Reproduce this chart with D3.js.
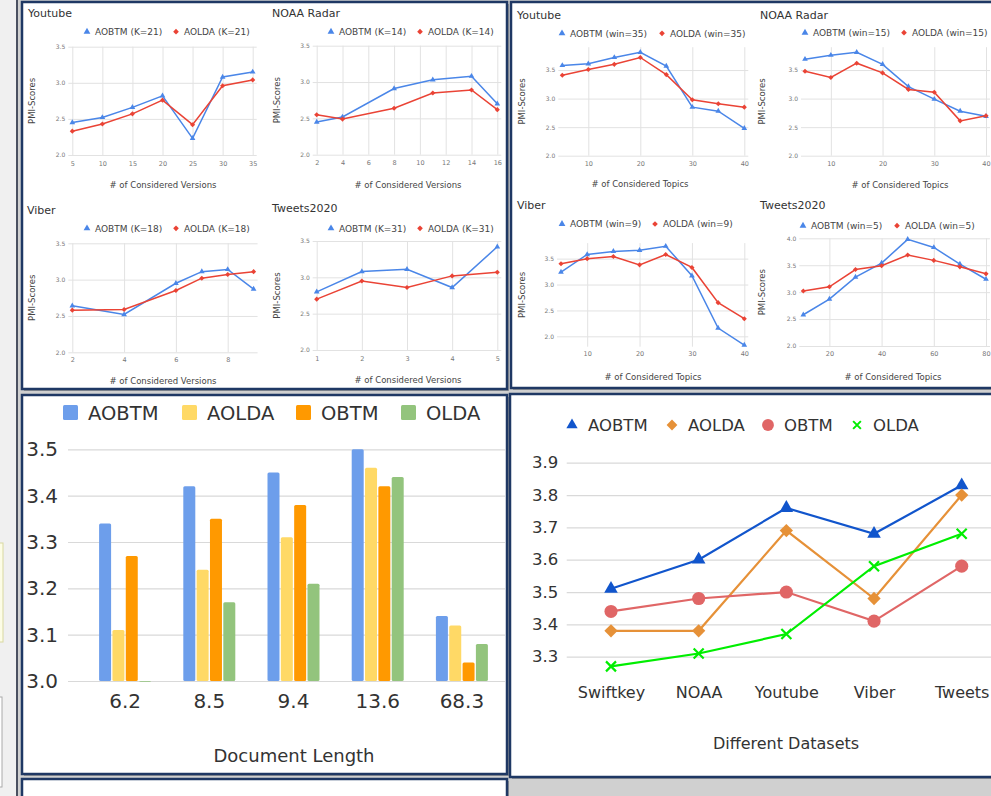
<!DOCTYPE html>
<html>
<head>
<meta charset="utf-8">
<script src="https://cdn.jsdelivr.net/npm/d3@7"></script>
<style>
  body { margin: 0; background: #d4d4d4; }
  svg { display: block; font-family: 'DejaVu Sans', Verdana, sans-serif; }
</style>
</head>
<body>
<svg id="chart" width="991" height="796"></svg>
<script>
// ---- top-left: PMI vs # of considered versions ----
const ytVersions = [5, 10, 15, 20, 25, 30, 35];
const ytVerAOBTM = [2.45, 2.52, 2.66, 2.82, 2.23, 3.08, 3.15];
const ytVerAOLDA = [2.33, 2.43, 2.57, 2.76, 2.42, 2.96, 3.04];
const noaaVersions = [2, 4, 8, 11, 14, 16];
const noaaVerAOBTM = [2.45, 2.52, 2.91, 3.03, 3.08, 2.70];
const noaaVerAOLDA = [2.55, 2.49, 2.64, 2.85, 2.89, 2.62];
const viberVersions = [2, 4, 6, 7, 8, 9];
const viberVerAOBTM = [2.64, 2.52, 2.95, 3.11, 3.14, 2.87];
const viberVerAOLDA = [2.58, 2.59, 2.85, 3.02, 3.07, 3.11];
const tweetsVersions = [1, 2, 3, 4, 5];
const tweetsVerAOBTM = [2.80, 3.08, 3.11, 2.86, 3.42];
const tweetsVerAOLDA = [2.70, 2.95, 2.86, 3.02, 3.07];

// ---- top-right: PMI vs # of considered topics ----
const topics = [5, 10, 15, 20, 25, 30, 35, 40];
const ytTopAOBTM = [3.58, 3.61, 3.72, 3.81, 3.57, 2.85, 2.78, 2.48];
const ytTopAOLDA = [3.41, 3.51, 3.60, 3.72, 3.42, 2.98, 2.91, 2.85];
const noaaTopAOBTM = [3.69, 3.76, 3.81, 3.60, 3.21, 2.99, 2.78, 2.69];
const noaaTopAOLDA = [3.48, 3.37, 3.62, 3.45, 3.16, 3.11, 2.61, 2.70];
const viberTopAOBTM = [3.24, 3.58, 3.64, 3.66, 3.74, 3.17, 2.16, 1.83];
const viberTopAOLDA = [3.40, 3.50, 3.54, 3.38, 3.58, 3.33, 2.65, 2.34];
const tweetsTopics = [10, 20, 30, 40, 50, 60, 70, 80];
const tweetsTopAOBTM = [2.58, 2.87, 3.28, 3.54, 3.98, 3.83, 3.52, 3.24];
const tweetsTopAOLDA = [3.02, 3.10, 3.42, 3.49, 3.69, 3.59, 3.47, 3.34];

const pmiTicks = [2.0, 2.5, 3.0, 3.5];
const pmiTicks4 = [2.0, 2.5, 3.0, 3.5, 4.0];

// ---- bottom-left: document length bars ----
const docLengths = ['6.2', '8.5', '9.4', '13.6', '68.3'];
const barModels = ['AOBTM', 'AOLDA', 'OBTM', 'OLDA'];
const barAOBTM = [3.34, 3.42, 3.45, 3.50, 3.14];
const barAOLDA = [3.11, 3.24, 3.31, 3.46, 3.12];
const barOBTM = [3.27, 3.35, 3.38, 3.42, 3.04];
const barOLDA = [3.00, 3.17, 3.21, 3.44, 3.08];
const barTicks = [3.0, 3.1, 3.2, 3.3, 3.4, 3.5];

// ---- bottom-right: different datasets ----
const datasets = ['Swiftkey', 'NOAA', 'Youtube', 'Viber', 'Tweets'];
const dsAOBTM = [3.51, 3.60, 3.76, 3.68, 3.83];
const dsAOLDA = [3.38, 3.38, 3.69, 3.48, 3.80];
const dsOBTM = [3.44, 3.48, 3.50, 3.41, 3.58];
const dsOLDA = [3.27, 3.31, 3.37, 3.58, 3.68];
const dsTicks = [3.3, 3.4, 3.5, 3.6, 3.7, 3.8, 3.9];

const FONT = "'DejaVu Sans', Verdana, sans-serif";
const BLUE = '#4a86e8', RED = '#ea4335';
const NAVY = '#1f3864';

const svg = d3.select('#chart');

// background, left strip bits
svg.append('rect').attr('width', 991).attr('height', 796).attr('fill', '#d0d0d0');
svg.append('rect').attr('width', 16).attr('height', 796).attr('fill', '#f0f0f0');
svg.append('rect').attr('x', -10).attr('y', 543).attr('width', 13).attr('height', 99)
  .attr('fill', '#fdfde6').attr('stroke', '#d8d8a0');
svg.append('rect').attr('x', -10).attr('y', 697).attr('width', 12).attr('height', 90)
  .attr('fill', '#fff').attr('stroke', '#aaa');
svg.append('line').attr('x1', 17).attr('x2', 17).attr('y1', 0).attr('y2', 796)
  .attr('stroke', '#4a5060').attr('stroke-width', 2);

// panel frames
const panels = [
  [22, 2, 485, 387],
  [511, 2, 482, 386],
  [22, 395, 485, 379],
  [510, 394, 483, 383],
  [22, 779, 485, 40]
];
panels.forEach(([x, y, w, h]) => {
  svg.append('rect').attr('x', x + 2).attr('y', y + 2).attr('width', w).attr('height', h)
    .attr('fill', '#9a9a9a');
  svg.append('rect').attr('x', x).attr('y', y).attr('width', w).attr('height', h)
    .attr('fill', '#fff').attr('stroke', NAVY).attr('stroke-width', 2.5);
});

function styleAxis(ax, size, color) {
  ax.attr('font-family', FONT).attr('font-size', size);
  ax.select('.domain').remove();
  ax.selectAll('text').attr('fill', color);
}

// small google-sheets style line chart
function smallChart(c) {
  const g = svg.append('g').attr('transform', `translate(${c.ox},${c.oy})`);
  const x = d3.scaleLinear().domain(c.xDomain).range(c.xr);
  const y = d3.scaleLinear().domain(c.yDomain).range(c.yr);

  const yAx = g.append('g').attr('transform', `translate(${c.xr[0] - 4},0)`)
    .call(d3.axisLeft(y).tickValues(c.yTicks).tickFormat(d3.format('.1f'))
      .tickSize(-(c.xr[1] - c.xr[0] + 8)).tickPadding(3));
  styleAxis(yAx, 6, '#777');
  yAx.selectAll('line').attr('stroke', '#e2e2e2');

  const xAx = g.append('g').attr('transform', `translate(0,${c.yr[0]})`)
    .call(d3.axisBottom(x).tickValues(c.xTicks).tickFormat(d3.format('d'))
      .tickSize(-(c.yr[0] - c.yr[1])).tickPadding(c.xPad));
  styleAxis(xAx, 6.5, '#777');
  xAx.selectAll('line').attr('stroke', '#e2e2e2');

  const line = d3.line().x(d => x(d[0])).y(d => y(d[1]));
  // red marker: a small square turned 45deg
  const series = [
    [c.blue, BLUE, d3.symbolTriangle, 14, 0],
    [c.red, RED, d3.symbolSquare, 13, 45]
  ];
  series.forEach(([vals, col, sym, sz, rot]) => {
    const pts = c.xs.map((v, i) => [v, vals[i]]);
    g.append('path').datum(pts).attr('d', line)
      .attr('fill', 'none').attr('stroke', col).attr('stroke-width', 1.5);
    g.selectAll(null).data(pts).join('path')
      .attr('transform', d => `translate(${x(d[0])},${y(d[1])}) rotate(${rot})`)
      .attr('d', d3.symbol(sym, sz)).attr('fill', col);
  });

  // title + legend
  g.append('text').attr('x', c.title[0]).attr('y', c.title[1]).text(c.name)
    .attr('font-size', 11).attr('fill', '#333');
  [[c.legBlue, BLUE, d3.symbolTriangle, 20, 0, c.legend[0]],
   [c.legRed, RED, d3.symbolSquare, 16, 45, c.legend[1]]].forEach(([lx, col, sym, sz, rot, label]) => {
    g.append('path').attr('transform', `translate(${lx},${c.legY}) rotate(${rot})`)
      .attr('d', d3.symbol(sym, sz)).attr('fill', col);
    g.append('text').attr('x', lx + 8).attr('y', c.legY + 3.2).text(label)
      .attr('font-size', 9).attr('fill', '#444');
  });

  g.append('text').attr('x', c.xTitleX).attr('y', c.xTitleY).attr('text-anchor', 'middle')
    .attr('font-size', 8.5).attr('fill', '#444').text(c.xTitle);
  const midY = (c.yr[0] + c.yr[1]) / 2;
  g.append('text').attr('transform', `translate(${15},${midY}) rotate(-90)`)
    .attr('text-anchor', 'middle').attr('font-size', 8.5).attr('fill', '#444').text('PMI-Scores');
}

const smallCharts = [
  { name: 'Youtube', ox: 20, oy: 0, xs: ytVersions, blue: ytVerAOBTM, red: ytVerAOLDA,
    legend: ['AOBTM (K=21)', 'AOLDA (K=21)'], xDomain: [5, 35], xTicks: ytVersions,
    xr: [52.3, 232.7], yr: [155, 46.7], yDomain: [2, 3.5], yTicks: pmiTicks, xPad: 6,
    title: [8, 17], legY: 31.7, legBlue: 67, legRed: 156,
    xTitle: '# of Considered Versions', xTitleX: 143, xTitleY: 188 },
  { name: 'NOAA Radar', ox: 265, oy: 0, xs: noaaVersions, blue: noaaVerAOBTM, red: noaaVerAOLDA,
    legend: ['AOBTM (K=14)', 'AOLDA (K=14)'], xDomain: [2, 16], xTicks: [2, 4, 6, 8, 10, 12, 14, 16],
    xr: [51.7, 232.3], yr: [154.7, 45.7], yDomain: [2, 3.5], yTicks: pmiTicks, xPad: 6,
    title: [7, 17], legY: 31.7, legBlue: 66, legRed: 155,
    xTitle: '# of Considered Versions', xTitleX: 143, xTitleY: 188 },
  { name: 'Viber', ox: 20, oy: 195, xs: viberVersions, blue: viberVerAOBTM, red: viberVerAOLDA,
    legend: ['AOBTM (K=18)', 'AOLDA (K=18)'], xDomain: [2, 9], xTicks: [2, 4, 6, 8],
    xr: [52.3, 233.6], yr: [157.3, 48.3], yDomain: [2, 3.5], yTicks: pmiTicks, xPad: 5,
    title: [7, 19], legY: 33.3, legBlue: 67, legRed: 156,
    xTitle: '# of Considered Versions', xTitleX: 143, xTitleY: 189 },
  { name: 'Tweets2020', ox: 265, oy: 195, xs: tweetsVersions, blue: tweetsVerAOBTM, red: tweetsVerAOLDA,
    legend: ['AOBTM (K=31)', 'AOLDA (K=31)'], xDomain: [1, 5], xTicks: tweetsVersions,
    xr: [51.7, 232.3], yr: [155, 46], yDomain: [2, 3.5], yTicks: pmiTicks, xPad: 6,
    title: [7, 17], legY: 33.3, legBlue: 66, legRed: 155,
    xTitle: '# of Considered Versions', xTitleX: 143, xTitleY: 188 },
  { name: 'Youtube', ox: 510, oy: 0, xs: topics, blue: ytTopAOBTM, red: ytTopAOLDA,
    legend: ['AOBTM (win=35)', 'AOLDA (win=35)'], xDomain: [5, 40], xTicks: [10, 20, 30, 40],
    xr: [52.3, 234.3], yr: [155.7, 47.2], yDomain: [2, 3.9], yTicks: pmiTicks, xPad: 6,
    title: [7, 19], legY: 33.3, legBlue: 52, legRed: 152,
    xTitle: '# of Considered Topics', xTitleX: 130, xTitleY: 187 },
  { name: 'NOAA Radar', ox: 750, oy: 0, xs: topics, blue: noaaTopAOBTM, red: noaaTopAOLDA,
    legend: ['AOBTM (win=15)', 'AOLDA (win=15)'], xDomain: [5, 40], xTicks: [10, 20, 30, 40],
    xr: [55, 236], yr: [155.7, 47.2], yDomain: [2, 3.9], yTicks: pmiTicks, xPad: 6,
    title: [10, 19], legY: 32.7, legBlue: 55, legRed: 154,
    xTitle: '# of Considered Topics', xTitleX: 150, xTitleY: 188 },
  { name: 'Viber', ox: 510, oy: 195, xs: topics, blue: viberTopAOBTM, red: viberTopAOLDA,
    legend: ['AOBTM (win=9)', 'AOLDA (win=9)'], xDomain: [5, 40], xTicks: [10, 20, 30, 40],
    xr: [51, 234.3], yr: [151.7, 48.1], yDomain: [1.8, 3.8], yTicks: pmiTicks, xPad: 5,
    title: [7, 14], legY: 29, legBlue: 52, legRed: 145,
    xTitle: '# of Considered Topics', xTitleX: 143, xTitleY: 185 },
  { name: 'Tweets2020', ox: 750, oy: 195, xs: tweetsTopics, blue: tweetsTopAOBTM, red: tweetsTopAOLDA,
    legend: ['AOBTM (win=5)', 'AOLDA (win=5)'], xDomain: [10, 80], xTicks: [20, 40, 60, 80],
    xr: [53.3, 236], yr: [151, 43.3], yDomain: [2, 4], yTicks: pmiTicks4, xPad: 5,
    title: [10, 14], legY: 30.7, legBlue: 53, legRed: 147,
    xTitle: '# of Considered Topics', xTitleX: 143, xTitleY: 185 }
];
smallCharts.forEach(smallChart);

// ---------------- bottom-left: grouped bars ----------------
const barColors = d3.scaleOrdinal().domain(barModels).range(['#6d9eeb', '#ffd966', '#ff9900', '#93c47d']);
const barSeries = [barAOBTM, barAOLDA, barOBTM, barOLDA];

const x0 = d3.scaleBand().domain(docLengths).range([83, 504]);
const x1 = d3.scaleBand().domain(barModels).range([-26, 26]).paddingInner(0.1);
const yb = d3.scaleLinear().domain([3.0, 3.5]).range([681, 449.3]);

const bl = svg.append('g');
const ybAx = bl.append('g').attr('transform', 'translate(68,0)')
  .call(d3.axisLeft(yb).tickValues(barTicks).tickFormat(d3.format('.1f')).tickSize(-437).tickPadding(10));
styleAxis(ybAx, 20, '#333');
ybAx.selectAll('line').attr('stroke', '#d9d9d9').attr('stroke-width', 1.2);

const xbAx = bl.append('g').attr('transform', 'translate(0,681)')
  .call(d3.axisBottom(x0).tickSize(0).tickPadding(13));
styleAxis(xbAx, 20, '#333');

barModels.forEach((m, si) => {
  bl.selectAll(null).data(docLengths).join('rect')
    .attr('x', d => x0(d) + x0.bandwidth() / 2 + x1(m))
    .attr('y', (d, i) => yb(barSeries[si][i]))
    .attr('width', x1.bandwidth())
    .attr('height', (d, i) => Math.max(yb(3.0) - yb(barSeries[si][i]), 0.8))
    .attr('rx', 1.5)
    .attr('fill', barColors(m));
});

const barLegX = [63, 182, 296, 401];
barModels.forEach((m, i) => {
  bl.append('rect').attr('x', barLegX[i]).attr('y', 405).attr('width', 15).attr('height', 15)
    .attr('rx', 1.5).attr('fill', barColors(m));
  bl.append('text').attr('x', barLegX[i] + 25).attr('y', 419.5).text(m)
    .attr('font-size', 19.5).attr('fill', '#333');
});
bl.append('text').attr('x', 294).attr('y', 762).attr('text-anchor', 'middle')
  .attr('font-size', 18).attr('fill', '#333').text('Document Length');

// ---------------- bottom-right: datasets line chart ----------------
const xd = d3.scalePoint().domain(datasets).range([611, 961.7]);
const yd = d3.scaleLinear().domain([3.3, 3.9]).range([656.7, 462.7]);

const br = svg.append('g');
const ydAx = br.append('g').attr('transform', 'translate(566.7,0)')
  .call(d3.axisLeft(yd).tickValues(dsTicks).tickFormat(d3.format('.1f')).tickSize(-430).tickPadding(8.5));
styleAxis(ydAx, 16.5, '#333');
ydAx.selectAll('line').attr('stroke', '#d9d9d9').attr('stroke-width', 1.2);

const xdAx = br.append('g').attr('transform', 'translate(0,656.7)')
  .call(d3.axisBottom(xd).tickSize(0).tickPadding(30));
styleAxis(xdAx, 16, '#333');

// "x" marker as a d3 symbol type
const symbolCross45 = {
  draw(ctx, size) {
    const r = Math.sqrt(size) / 2;
    ctx.moveTo(-r, -r); ctx.lineTo(r, r);
    ctx.moveTo(r, -r); ctx.lineTo(-r, r);
  }
};

const dsSeries = [
  { name: 'AOBTM', vals: dsAOBTM, color: '#1155cc', sym: d3.symbolTriangle, size: 80, legSize: 55, rot: 0 },
  { name: 'AOLDA', vals: dsAOLDA, color: '#e69138', sym: d3.symbolSquare, size: 88, legSize: 58, rot: 45 },
  { name: 'OBTM', vals: dsOBTM, color: '#e06666', sym: d3.symbolCircle, size: 135, legSize: 110, rot: 0 },
  { name: 'OLDA', vals: dsOLDA, color: '#00ee00', sym: symbolCross45, size: 100, legSize: 60, rot: 0, stroke: true }
];
const dsLine = d3.line().x((d, i) => xd(datasets[i])).y(d => yd(d));

dsSeries.forEach(s => {
  br.append('path').datum(s.vals).attr('d', dsLine)
    .attr('fill', 'none').attr('stroke', s.color).attr('stroke-width', 2.2);
  br.selectAll(null).data(s.vals).join('path')
    .attr('transform', (d, i) => `translate(${xd(datasets[i])},${yd(d)}) rotate(${s.rot})`)
    .attr('d', d3.symbol(s.sym, s.size))
    .attr('fill', s.stroke ? 'none' : s.color)
    .attr('stroke', s.stroke ? s.color : 'none')
    .attr('stroke-width', 2.2);
});

const dsLegX = [572, 672, 768, 857];
dsSeries.forEach((s, i) => {
  br.append('path').attr('transform', `translate(${dsLegX[i]},425) rotate(${s.rot})`)
    .attr('d', d3.symbol(s.sym, s.legSize))
    .attr('fill', s.stroke ? 'none' : s.color)
    .attr('stroke', s.stroke ? s.color : 'none').attr('stroke-width', 2);
  br.append('text').attr('x', dsLegX[i] + 16).attr('y', 431).text(s.name)
    .attr('font-size', 16.5).attr('fill', '#333');
});
br.append('text').attr('x', 786).attr('y', 749).attr('text-anchor', 'middle')
  .attr('font-size', 16).attr('fill', '#333').text('Different Datasets');
</script>
</body>
</html>
